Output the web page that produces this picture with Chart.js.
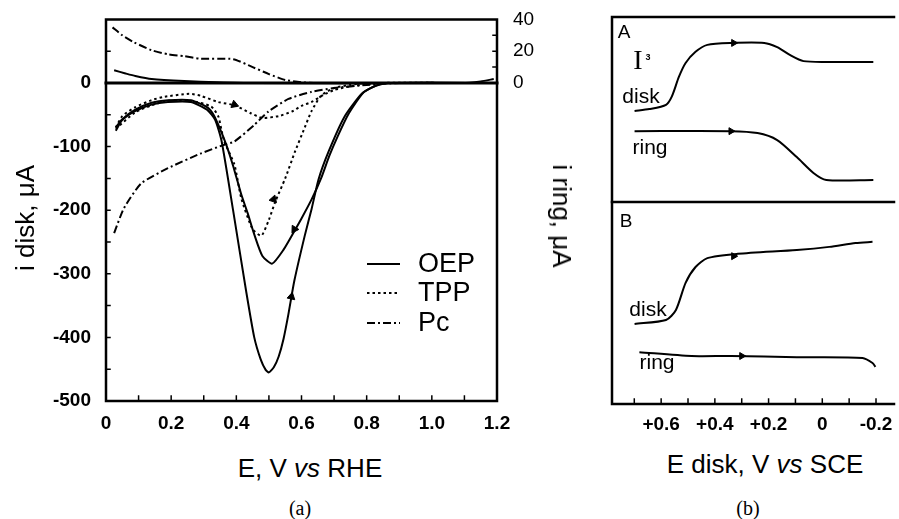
<!DOCTYPE html>
<html>
<head>
<meta charset="utf-8">
<script src="https://cdn.jsdelivr.net/npm/chart.js@4.4.1/dist/chart.umd.min.js"></script>
<style>
body { margin: 0; background: #fff; }
#wrap { position: relative; width: 899px; height: 519px; overflow: hidden; font-family: "Liberation Sans", Arial, sans-serif; color: #000; }
canvas { position: absolute; top: 0; }
.t { position: absolute; white-space: nowrap; line-height: 1; transform: translate(-50%, -50%); }
.serif { font-family: "Liberation Serif", "Times New Roman", serif; }
</style>
</head>
<body>
<div id="wrap">
  <canvas id="cvA" width="600" height="445" style="left:0"></canvas>
  <canvas id="cvB" width="299" height="445" style="left:600px"></canvas>

  <div class="t" style="left:25px;top:218px;font-size:26px;transform:translate(-50%,-50%) rotate(-90deg)">i disk, μA</div>
  <div class="t" style="left:562px;top:216px;font-size:26px;transform:translate(-50%,-50%) rotate(90deg)">i ring, μA</div>
  <div class="t" style="left:310px;top:468px;font-size:26px">E, V <i>vs</i> RHE</div>
  <div class="t serif" style="left:300px;top:508px;font-size:20px">(a)</div>

  <div class="t" style="left:765px;top:464px;font-size:26px">E disk, V <i>vs</i> SCE</div>
  <div class="t serif" style="left:748px;top:508px;font-size:20px">(b)</div>
  <div class="t" style="left:624px;top:31px;font-size:19px">A</div>
  <div class="t" style="left:626px;top:220px;font-size:19px">B</div>
  <div class="t serif" style="left:638px;top:60px;font-size:28px">I</div>
  <div class="t" style="left:648px;top:57px;font-size:9px;font-weight:bold">3</div>
  <div class="t" style="left:641px;top:95px;font-size:21px">disk</div>
  <div class="t" style="left:650px;top:146px;font-size:21px">ring</div>
  <div class="t" style="left:648px;top:308px;font-size:21px">disk</div>
  <div class="t" style="left:657px;top:361px;font-size:21px">ring</div>
</div>

<script>
// ---- panel (a): disk / ring currents vs E (V vs RHE) ----
const seriesNames = ['OEP', 'TPP', 'Pc'];

// disk currents, µA
const oepAnodic = [[0.03,-75],[0.05,-58],[0.086,-45],[0.14,-34],[0.19,-30],[0.26,-30],[0.31,-42],[0.335,-58],[0.355,-92],
  [0.39,-200],[0.43,-327],[0.455,-400],[0.475,-435],[0.49,-451],[0.50,-455],[0.515,-447],[0.53,-430],[0.545,-402],
  [0.56,-363],[0.578,-311],[0.61,-240],[0.631,-198],[0.652,-152],[0.683,-108],[0.732,-53],[0.785,-17],[0.825,-5],[0.86,0],[1.2,0]];
const oepCathodic = [[1.2,0],[0.87,0],[0.83,-4],[0.79,-15],[0.745,-48],[0.71,-85],[0.685,-115],[0.66,-150],[0.631,-183],
  [0.60,-213],[0.578,-233],[0.545,-262],[0.51,-284],[0.48,-272],[0.455,-238],[0.435,-205],[0.415,-175],[0.39,-130],
  [0.369,-97],[0.35,-72],[0.33,-50],[0.31,-38],[0.26,-27],[0.19,-27],[0.14,-31],[0.09,-42],[0.05,-57],[0.03,-70]];
const tppShallow = [[0.03,-70],[0.05,-52],[0.09,-38],[0.14,-27],[0.175,-22],[0.255,-17],[0.29,-20],[0.345,-30],[0.394,-35],
  [0.446,-48],[0.48,-55],[0.53,-52],[0.57,-45],[0.60,-36],[0.63,-30],[0.67,-18],[0.70,-11],[0.75,-5],[0.8,-2],[0.85,0],[1.2,0]];
const tppDeep = [[0.03,-72],[0.09,-46],[0.14,-35],[0.19,-28],[0.26,-28],[0.323,-37],[0.345,-53],[0.354,-73],[0.363,-92],
  [0.394,-128],[0.415,-181],[0.45,-230],[0.477,-240],[0.50,-215],[0.52,-186],[0.55,-150],[0.58,-108],[0.61,-70],
  [0.63,-45],[0.66,-20],[0.70,-8],[0.75,-3],[0.8,0],[1.2,0]];
const pcDisk = [[0.025,-236],[0.055,-197],[0.108,-158],[0.19,-134],[0.29,-111],[0.363,-97],[0.394,-92],[0.455,-66],
  [0.498,-45],[0.56,-25],[0.63,-14],[0.70,-8],[0.8,-3],[0.9,0],[1.2,0]];

// ring currents, µA
const oepRing = [[0.025,8],[0.06,6],[0.09,4.4],[0.14,2.5],[0.24,1.2],[0.34,0.5],[0.45,0],[1.09,0],[1.15,1],[1.19,2.5]];
const pcRing = [[0.02,35],[0.05,30],[0.086,25.6],[0.14,20.6],[0.19,18.1],[0.24,16.9],[0.29,15.3],[0.39,15],
  [0.45,10],[0.50,5.6],[0.55,1.9],[0.60,0.5],[0.65,0],[1.2,0]];

// sweep direction arrows on disk curves
const arrowsA = [[0.578,-230],[0.569,-336],[0.514,-183],[0.394,-34]];
const arrowsATurn = [212, 12, 18, 110];

// axis ticks
const xTicksA = [0, 0.2, 0.4, 0.6, 0.8, 1.0, 1.2];
const diskTicks = [0, -100, -200, -300, -400, -500];
const ringTicks = [0, 20, 40];
const xMinorA = [0.1, 0.2, 0.3, 0.4, 0.5, 0.6, 0.7, 0.8, 0.9, 1.0, 1.1];
const diskMinor = [50, 0, -50, -100, -150, -200, -250, -300, -350, -400, -450];
const ringMinor = [0, 10, 20, 30];

// ---- panel (b): disk / ring responses vs E disk (V vs SCE), arbitrary level ----
const aDisk = [[0.699,75.7],[0.644,76.2],[0.582,77.3],[0.560,79.5],[0.534,84.5],[0.509,88.1],[0.472,91.0],[0.428,92.8],
  [0.340,93.3],[0.216,93.3],[0.168,92.2],[0.121,90.2],[0.070,88.6],[-0.026,88.4],[-0.190,88.4]];
const aRing = [[0.699,70.5],[0.340,70.5],[0.241,70.0],[0.168,68.2],[0.095,63.8],[0.033,59.7],[-0.015,57.9],[-0.190,57.9]];
const bDisk = [[0.699,20.7],[0.582,21.7],[0.545,24.3],[0.509,31.3],[0.472,35.4],[0.428,37.7],[0.315,38.8],[0.095,39.8],
  [-0.026,40.6],[-0.124,41.6],[-0.187,41.9]];
const bRing = [[0.681,13.4],[0.487,12.4],[0.340,12.4],[0.095,12.1],[-0.150,11.9],[-0.187,10.6],[-0.198,9.6]];
const arrowsB = [[0.33,93.3],[0.34,70.5],[0.33,38.2],[0.30,12.4]];
const xTicksB = [0.6, 0.4, 0.2, 0, -0.2];
const xMinorB = [0.7, 0.6, 0.5, 0.4, 0.3, 0.2, 0.1, 0, -0.1, -0.2];
const dividerLevel = 52.2;

const FONT = '"Liberation Sans", Arial, sans-serif';
const pts = arr => arr.map(p => ({ x: p[0], y: p[1] }));

function curve(label, arr, axis, dash) {
  return {
    label: label, data: pts(arr), yAxisID: axis, showLine: true,
    borderColor: '#000', borderWidth: 2, borderDash: dash || [],
    pointRadius: 0, tension: 0.2, fill: false
  };
}

function arrows(arr, turn, size) {
  return {
    label: '', data: pts(arr), yAxisID: 'y', showLine: false,
    pointStyle: 'triangle', pointRadius: size, pointRotation: turn,
    backgroundColor: '#000', borderColor: '#000', borderWidth: 1
  };
}

// frame, inward tick marks and horizontal rules
const frameTicks = {
  id: 'frameTicks',
  afterDatasetsDraw(chart, args, opts) {
    const { ctx, chartArea: a } = chart;
    ctx.save();
    ctx.strokeStyle = '#000';
    ctx.lineCap = 'square';
    ctx.lineWidth = 2.5;
    ctx.beginPath();
    if (opts.sides.includes('top')) { ctx.moveTo(a.left, a.top); ctx.lineTo(a.right, a.top); }
    if (opts.sides.includes('left')) { ctx.moveTo(a.left, a.top); ctx.lineTo(a.left, a.bottom); }
    if (opts.sides.includes('right')) { ctx.moveTo(a.right, a.top); ctx.lineTo(a.right, a.bottom); }
    if (opts.sides.includes('bottom')) { ctx.moveTo(a.left, a.bottom); ctx.lineTo(a.right, a.bottom); }
    ctx.stroke();
    (opts.rules || []).forEach(r => {
      const y = chart.scales[r.scale].getPixelForValue(r.value);
      ctx.lineWidth = r.width;
      ctx.beginPath(); ctx.moveTo(a.left, y); ctx.lineTo(a.right, y); ctx.stroke();
    });
    ctx.lineWidth = 1.5;
    (opts.marks || []).forEach(m => {
      const s = chart.scales[m.scale];
      ctx.beginPath();
      m.values.forEach(v => {
        const p = s.getPixelForValue(v);
        if (m.edge === 'left') { ctx.moveTo(a.left, p); ctx.lineTo(a.left + 4, p); }
        if (m.edge === 'right') { ctx.moveTo(a.right, p); ctx.lineTo(a.right - 4, p); }
        if (m.edge === 'bottom') { ctx.moveTo(p, a.bottom); ctx.lineTo(p, a.bottom - 5); }
      });
      ctx.stroke();
    });
    ctx.restore();
  }
};

// legend drawn inside panel (a)
const inlineLegend = {
  id: 'inlineLegend',
  afterDraw(chart, args, opts) {
    const ctx = chart.ctx;
    ctx.save();
    ctx.font = '27px ' + FONT;
    ctx.fillStyle = '#000';
    ctx.strokeStyle = '#000';
    ctx.lineWidth = 2;
    ctx.textBaseline = 'middle';
    opts.names.forEach((name, i) => {
      const ds = chart.data.datasets.find(d => d.label === name);
      const y = opts.rows[i];
      ctx.setLineDash(ds.borderDash);
      ctx.beginPath(); ctx.moveTo(opts.x0, y); ctx.lineTo(opts.x1, y); ctx.stroke();
      ctx.setLineDash([]);
      ctx.fillText(name, opts.tx, y + 1);
    });
    ctx.restore();
  }
};

const fmtA = v => (v === 0 ? '0' : v.toFixed(1));
const fmtB = v => (v > 0 ? '+' + v.toFixed(1) : (v === 0 ? '0' : v.toFixed(1)));

new Chart(document.getElementById('cvA'), {
  type: 'scatter',
  data: {
    datasets: [
      curve('OEP', oepAnodic, 'y'),
      curve('OEP', oepCathodic, 'y'),
      curve('TPP', tppShallow, 'y', [2.5, 3]),
      curve('TPP', tppDeep, 'y', [2.5, 3]),
      curve('Pc', pcDisk, 'y', [8, 3, 2, 3]),
      curve('OEP', oepRing, 'y2'),
      curve('Pc', pcRing, 'y2', [8, 3, 2, 3]),
      arrows(arrowsA, arrowsATurn, 4.5)
    ]
  },
  options: {
    responsive: false,
    animation: false,
    devicePixelRatio: 1,
    layout: { padding: { top: 17, right: 0, bottom: 0, left: 0 } },
    plugins: {
      legend: { display: false },
      tooltip: { enabled: false },
      frameTicks: {
        sides: ['top', 'left', 'right', 'bottom'],
        rules: [{ scale: 'y', value: 0, width: 3 }],
        marks: [
          { scale: 'y', edge: 'left', values: diskMinor },
          { scale: 'x', edge: 'bottom', values: xMinorA },
          { scale: 'y2', edge: 'right', values: ringMinor }
        ]
      },
      inlineLegend: { names: seriesNames, rows: [264, 293, 323], x0: 367, x1: 400, tx: 418 }
    },
    scales: {
      x: {
        type: 'linear', position: 'bottom', min: 0, max: 1.2,
        afterBuildTicks: s => { s.ticks = xTicksA.map(v => ({ value: v })); },
        afterFit: s => { s.height = 44; },
        grid: { display: false }, border: { display: false },
        ticks: { callback: fmtA, color: '#000', padding: 3, maxRotation: 0, font: { family: FONT, size: 19, weight: 'bold' } }
      },
      y: {
        type: 'linear', position: 'left', min: -500, max: 100,
        afterBuildTicks: s => { s.ticks = diskTicks.map(v => ({ value: v })); },
        afterFit: s => { s.width = 106; },
        grid: { display: false }, border: { display: false },
        ticks: { color: '#000', padding: 7, font: { family: FONT, size: 19, weight: 'bold' } }
      },
      y2: {
        type: 'linear', position: 'right', min: -200, max: 40,
        afterBuildTicks: s => { s.ticks = ringTicks.map(v => ({ value: v })); },
        afterFit: s => { s.width = 103; },
        grid: { display: false }, border: { display: false },
        ticks: { color: '#000', padding: 8, font: { family: FONT, size: 19 } }
      }
    }
  },
  plugins: [frameTicks, inlineLegend]
});

const lineB = arr => ({
  data: pts(arr), showLine: true, borderColor: '#000', borderWidth: 2,
  pointRadius: 0, tension: 0.25, fill: false
});

new Chart(document.getElementById('cvB'), {
  type: 'scatter',
  data: {
    datasets: [
      lineB(aDisk), lineB(aRing), lineB(bDisk), lineB(bRing),
      arrows(arrowsB, 90, 4)
    ]
  },
  options: {
    responsive: false,
    animation: false,
    devicePixelRatio: 1,
    layout: { padding: { top: 17, right: 0, bottom: 0, left: 0 } },
    plugins: {
      legend: { display: false },
      tooltip: { enabled: false },
      frameTicks: {
        sides: ['top', 'left', 'bottom'],
        rules: [{ scale: 'y', value: dividerLevel, width: 2.5 }],
        marks: [{ scale: 'x', edge: 'bottom', values: xMinorB }]
      }
    },
    scales: {
      x: {
        type: 'linear', position: 'bottom', reverse: true, min: -0.267, max: 0.783,
        afterBuildTicks: s => { s.ticks = xTicksB.map(v => ({ value: v })); },
        afterFit: s => { s.height = 41; },
        grid: { display: false }, border: { display: false },
        ticks: { callback: fmtB, color: '#000', padding: 1, maxRotation: 0, font: { family: FONT, size: 19, weight: 'bold' } }
      },
      y: {
        type: 'linear', position: 'left', min: 0, max: 100,
        afterFit: s => { s.width = 12; },
        grid: { display: false }, border: { display: false },
        ticks: { display: false }
      }
    }
  },
  plugins: [frameTicks]
});
</script>
</body>
</html>
